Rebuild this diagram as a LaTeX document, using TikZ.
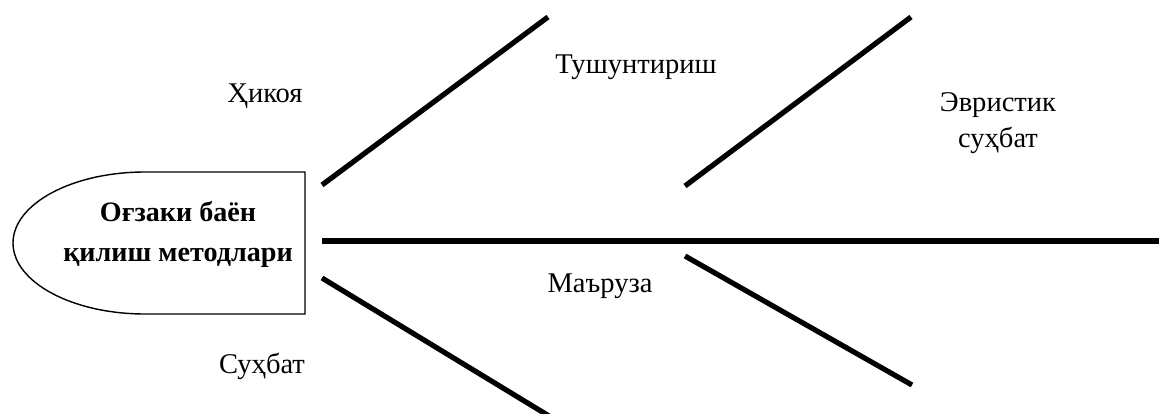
\documentclass[tikz,border=0pt]{standalone}
\usepackage{fontspec}
\setmainfont{Liberation Serif}

\begin{document}
\begin{tikzpicture}[x=0.025cm,y=-0.025cm,
  bone/.style={line width=3.7pt},
  lbl/.style={anchor=base,inner sep=0pt,font=\fontsize{20.3}{24}\selectfont},
  headtxt/.style={align=center,inner sep=0pt,font=\fontsize{20}{28.5}\selectfont\bfseries}]
\useasboundingbox (0,0) rectangle (1159,414);
% ---------- head ----------
\coordinate (htr) at (305,172);
\coordinate (htl) at (145,172);
\coordinate (hl)  at (13,243);
\coordinate (hbl) at (145,314);
\coordinate (hbr) at (305,314);
\draw[line width=1pt] (htr) -- (htl)
  .. controls (72,172) and (13,204) .. (hl)
  .. controls (13,282) and (72,314) .. (hbl) -- (hbr) -- cycle;
\node[headtxt] (head) at (178,234) {Оғзаки баён\\қилиш методлари};
% ---------- spine and bones ----------
\coordinate (s0) at (322,241);
\coordinate (s1) at (1165,241);
\draw[line width=4.2pt] (s0) -- (s1);
\coordinate (a0) at (322,185);
\coordinate (a1) at (548,17);
\coordinate (b0) at (685,186);
\coordinate (b1) at (911,17);
\coordinate (c0) at (322,278);
\coordinate (c1) at (549,416);
\coordinate (d0) at (685,256);
\coordinate (d1) at (912,385);
\draw[bone] (a0) -- (a1);
\draw[bone] (b0) -- (b1);
\draw[bone] (c0) -- (c1);
\draw[bone] (d0) -- (d1);
% ---------- labels ----------
\node[lbl] (hikoya) at (265,102) {Ҳикоя};
\node[lbl] (tush)   at (636,73)  {Тушунтириш};
\node[lbl] (evr1)   at (998,111) {Эвристик};
\node[lbl] (evr2)   at (998,147) {суҳбат};
\node[lbl] (maruza) at (600,292) {Маъруза};
\node[lbl] (suhbat) at (262,373) {Суҳбат};
\end{tikzpicture}
\end{document}
